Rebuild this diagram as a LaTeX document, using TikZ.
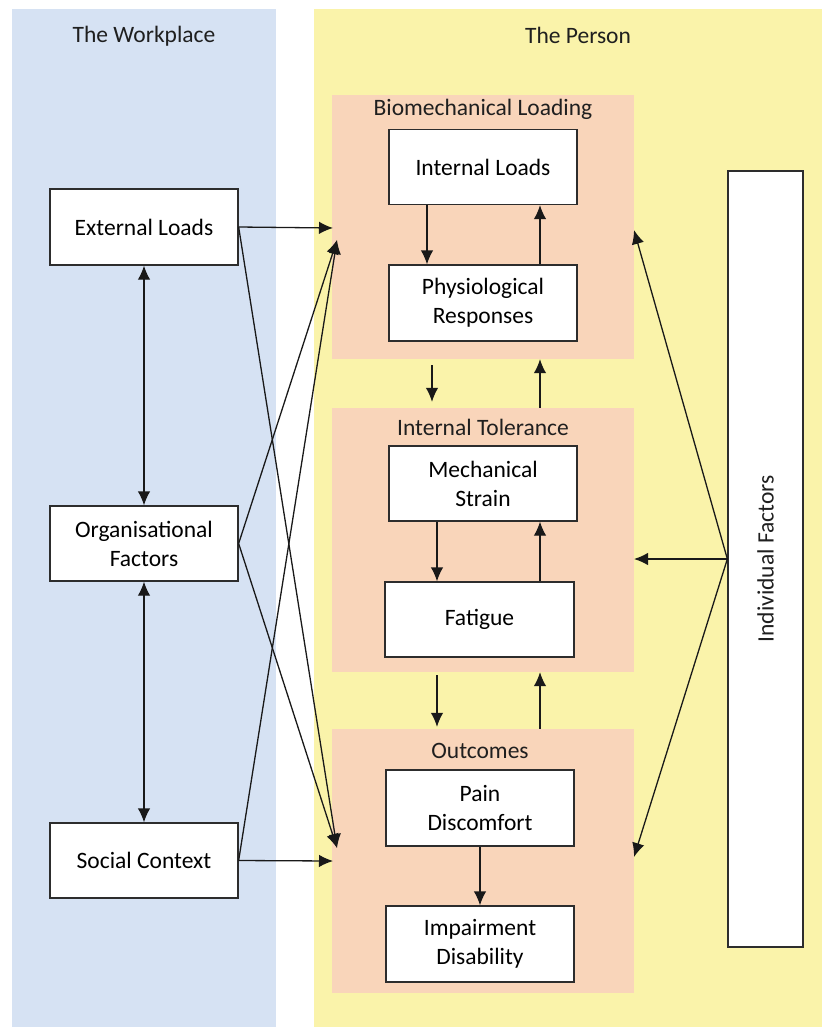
\documentclass[tikz,border=0pt]{standalone}
\usepackage{fontspec}
\setmainfont{Carlito}
\usetikzlibrary{arrows.meta,calc}
\definecolor{wpblue}{RGB}{214,226,243}
\definecolor{psyellow}{RGB}{250,243,170}
\definecolor{grpeach}{RGB}{249,213,186}
\definecolor{edge}{RGB}{45,45,45}
\tikzset{
  group/.style={fill=grpeach,draw=none,inner sep=0pt},
  box/.style={draw=edge,line width=1.3pt,fill=white,inner sep=0pt,align=center,
    minimum width=188pt,minimum height=75pt,
    font=\fontsize{23.5}{29}\selectfont},
  title/.style={font=\fontsize{23.5}{29}\selectfont,text=black!88,inner sep=0pt},
  arr/.style={draw=black!90,line width=1.3pt,-{Latex[length=14pt,width=12.5pt]}},
  darr/.style={draw=black!90,line width=1.3pt,{Latex[length=14pt,width=12.5pt]}-{Latex[length=14pt,width=12.5pt]}}
}
\begin{document}
\begin{tikzpicture}[x=1pt,y=-1pt]
\useasboundingbox (0,0) rectangle (830,1028);
% background panels
\fill[wpblue] (12,9) rectangle (276,1027);
\fill[psyellow] (314,9) rectangle (822,1027);
\node[title] (twp) at (144,36) {The Workplace};
\node[title] (tps) at (578,35) {The Person};
% groups inside the person
\node[group,minimum width=302pt,minimum height=264pt] (bio) at (483,227) {};
\node[group,minimum width=302pt,minimum height=264pt] (tol) at (483,540) {};
\node[group,minimum width=302pt,minimum height=264pt] (out) at (483,861) {};
\node[title] (tbio) at (483,109) {Biomechanical Loading};
\node[title] (ttol) at (483,427) {Internal Tolerance};
\node[title] (tout) at (480,751) {Outcomes};
% boxes of the person
\node[box] (il) at (483,167) {Internal Loads};
\node[box,minimum height=76pt] (pr) at (483,303) {Physiological\\Responses};
\node[box] (ms) at (483,483.5) {Mechanical\\Strain};
\node[box,minimum width=189pt] (fa) at (479.5,619.5) {Fatigue};
\node[box,minimum height=76pt] (pd) at (480,808) {Pain\\Discomfort};
\node[box,minimum height=76pt] (id) at (480,944) {Impairment\\Disability};
% workplace boxes
\node[box,minimum height=76pt] (el) at (144,227) {External Loads};
\node[box] (of) at (144,543.5) {Organisational\\Factors};
\node[box] (sc) at (144,860.5) {Social Context};
% individual factors
\node[box,minimum width=75pt,minimum height=776pt] (inf) at (765.5,559) {};
\node[title,rotate=90] (tinf) at (765.5,559) {Individual Factors};
% entry points on the group edges
\coordinate (bioh) at (333,228);
\coordinate (biod) at (337,240);
\coordinate (outh) at (333,861);
\coordinate (outd) at (337,848);
\coordinate (bior) at (634,230);
\coordinate (tolr) at (634,559);
\coordinate (outr) at (634,857);
% arrows inside the groups
\draw[arr] (il.south -| 427,0) -- (pr.north -| 427,0);
\draw[arr] (pr.north -| 540,0) -- (il.south -| 540,0);
\draw[arr] (ms.south -| 437,0) -- (fa.north -| 437,0);
\draw[arr] (fa.north -| 540,0) -- (ms.south -| 540,0);
\draw[arr] (pd.south) -- (id.north);
% arrows between the groups
\draw[arr,shorten <=6pt,shorten >=6pt] (bio.south -| 432,0) -- (tol.north -| 432,0);
\draw[arr] (tol.north -| 540,0) -- (bio.south -| 540,0);
\draw[arr,shorten <=3pt,shorten >=2pt] (tol.south -| 437,0) -- (out.north -| 437,0);
\draw[arr] (out.north -| 540,0) -- (tol.south -| 540,0);
% workplace to person
\draw[arr] (el.east) -- (bioh);
\draw[arr] (el.east) -- (outd);
\draw[arr] (of.east) -- (biod);
\draw[arr] (of.east) -- (outd);
\draw[arr] (sc.east) -- (biod);
\draw[arr] (sc.east) -- (outh);
\draw[darr] (el.south) -- (of.north);
\draw[darr] (of.south) -- (sc.north);
% individual factors to the groups
\draw[arr] (inf.west) -- (bior);
\draw[arr] (inf.west) -- (tolr);
\draw[arr] (inf.west) -- (outr);
\end{tikzpicture}
\end{document}
